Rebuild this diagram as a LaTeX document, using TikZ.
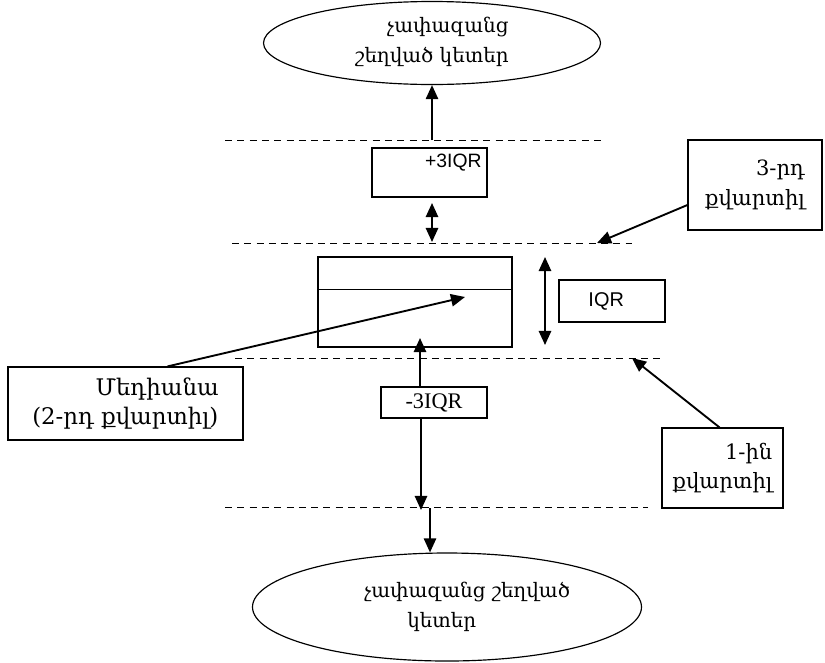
\documentclass[tikz,border=0pt]{standalone}
\usepackage{fontspec}
\setmainfont{DejaVu Serif}
\newfontfamily\armfont{DejaVu Serif}
\newfontfamily\sansfont{Liberation Sans}
\newfontfamily\seriffont{Liberation Serif}
\usetikzlibrary{shapes.geometric, arrows.meta, calc}

\begin{document}
\begin{tikzpicture}[x=0.03cm, y=-0.03cm, inner sep=3pt, >={Triangle[length=12pt, width=10.5pt]}]
		\tikzstyle{every node}=[align=center, font=\armfont\fontsize{18}{25}\selectfont]
		\tikzstyle{box}=[draw, line width=1pt]
		\tikzstyle{cloud}=[draw, ellipse, line width=1pt]
		\tikzstyle{level}=[dash pattern=on 6pt off 4.5pt, line width=0.8pt]
		\tikzstyle{arr}=[line width=1.6pt, ->]
		\useasboundingbox (0,0) rectangle (825,662);

			\node[cloud, minimum width=10.11cm, minimum height=2.49cm, align=right, font=\armfont\fontsize{17}{25}\selectfont] (topout) at (432,43) {\\[-14pt]չափազանց\\շեղված կետեր};
			\node[box, minimum width=3.45cm, minimum height=1.47cm, label={[anchor=north east, inner sep=5pt, font=\sansfont\fontsize{16.5}{18}\selectfont]north east:+3IQR}] (plus) at (429.5,172.5) {};
			\node[box, minimum width=5.82cm, minimum height=2.7cm] (iqrbox) at (415,302) {};
			\node[box, minimum width=3.18cm, minimum height=1.26cm, font=\sansfont\fontsize{17}{19}\selectfont] (iqr) at (612,301) {IQR\hspace*{0.35cm}};
			\node[box, minimum width=4.02cm, minimum height=2.7cm, align=right] (q3) at (755,185) {3-րդ\\քվարտիլ};
			\node[box, minimum width=7.05cm, minimum height=2.19cm, align=left, font=\armfont\fontsize{19.5}{25}\selectfont] (med) at (125.5,403.5) {\hspace*{1.9cm}Մեդիանա\\(2-րդ քվարտիլ)};
			\node[box, minimum width=3.18cm, minimum height=0.93cm, font=\seriffont\fontsize{19}{21}\selectfont] (minus) at (434,402.5) {-3IQR};
			\node[box, minimum width=3.63cm, minimum height=2.4cm, align=right] (q1) at (722.5,468) {1-ին\\քվարտիլ};
			\node[cloud, minimum width=11.67cm, minimum height=3.24cm, align=left, font=\armfont\fontsize{17}{25}\selectfont] (botout) at (447,607) {\hspace*{1.2cm}չափազանց շեղված\\\hspace*{2.5cm}կետեր};

			\draw[level] (225,140) -- (605,140);
			\draw[level] (232,243) -- (632,243);
			\draw[level] (235,358) -- (660,358);
			\draw[level] (225,507) -- (648,507);

			\draw[line width=1pt] ($(iqrbox.north west)!0.367!(iqrbox.south west)$) -- ($(iqrbox.north east)!0.367!(iqrbox.south east)$);

			\coordinate (upper) at (432,140);
			\coordinate (fencetop) at (432,203);
			\coordinate (fencebot) at (432,242);
			\coordinate (iqrtop) at (545,257);
			\coordinate (iqrbot) at (545,345);
			\coordinate (q3pt) at (597,243);
			\coordinate (medpt) at (465,297);
			\coordinate (q1pt) at (632,358);
			\coordinate (minustip) at (420,338);
			\coordinate (lower) at (421,510);
			\coordinate (lowstart) at (430,508);

			\draw[arr] (upper) -- (topout.south);
			\draw[arr, <->] (fencetop) -- (fencebot);
			\draw[arr, <->] (iqrtop) -- (iqrbot);
			\draw[arr] ($(q3.west)+(0,20)$) -- (q3pt);
			\draw[arr] ($(med.north)+(42,0)$) -- (medpt);
			\draw[arr] ($(minus.north)+(-14,0)$) -- (minustip);
			\draw[arr] ($(minus.south)+(-13,0)$) -- (lower);
			\draw[arr] (lowstart) -- ($(botout.north)+(-17,0)$);
			\draw[arr] ($(q1.north)+(-3,0)$) -- (q1pt);
		\end{tikzpicture}
\end{document}
